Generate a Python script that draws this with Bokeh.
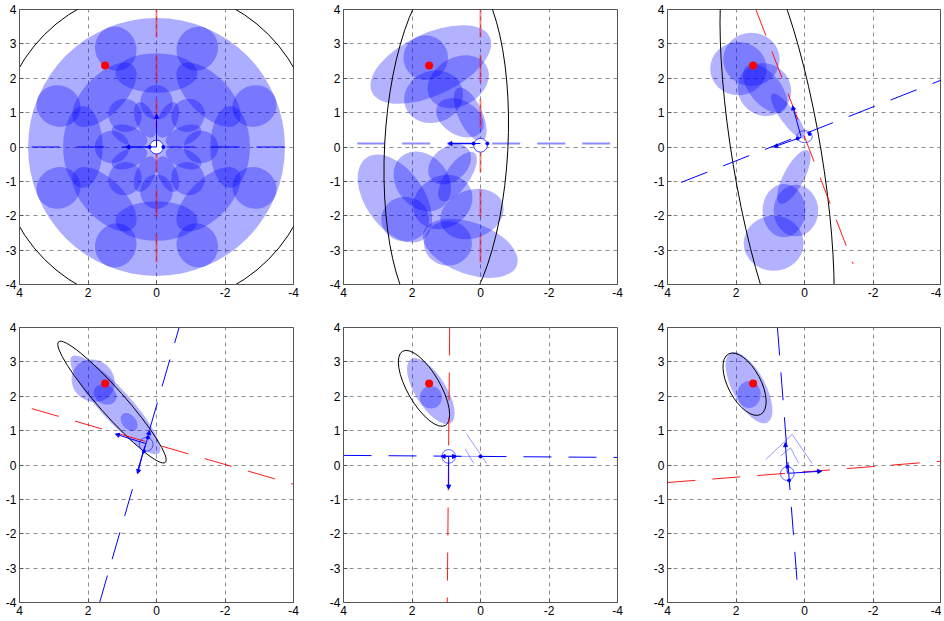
from bokeh.plotting import figure
from bokeh.layouts import column, row
from bokeh.models import Range1d, FixedTicker, Arrow, NormalHead, ColumnDataSource
from bokeh.embed import file_html
from bokeh.resources import INLINE

# ---------------- shared axis data ----------------
X_TICKS = [4, 2, 0, -2, -4]
Y_TICKS = [-4, -3, -2, -1, 0, 1, 2, 3, 4]
TRUE_X = [1.5]
TRUE_Y = [2.37]

# ---------------- panel 1 ----------------
# blue ellipses: (x, y, width, height, visual angle deg)
P1_DISC = [(0.0, 0.0, 7.5, 7.5, 0)]
P1_ELL = [
    (2.86, 1.19, 1.2, 1.3, 67.5), (1.19, 2.86, 1.2, 1.3, 22.5), (-1.19, 2.86, 1.2, 1.3, -22.5), (-2.86, 1.19, 1.2, 1.3, -67.5),
    (-2.86, -1.19, 1.2, 1.3, 67.5), (-1.19, -2.86, 1.2, 1.3, 22.5), (1.19, -2.86, 1.2, 1.3, -22.5), (2.86, -1.19, 1.2, 1.3, -67.5),
    (2.15, 0.0, 2.4, 1.15, 90), (1.52, 1.52, 2.4, 1.15, 45), (0.0, 2.15, 2.4, 1.15, 0), (-1.52, 1.52, 2.4, 1.15, -45),
    (-2.15, 0.0, 2.4, 1.15, 90), (-1.52, -1.52, 2.4, 1.15, 45), (0.0, -2.15, 2.4, 1.15, 0), (1.52, -1.52, 2.4, 1.15, -45),
    (1.3, 0.0, 0.95, 1.0, 90), (0.92, 0.92, 0.95, 1.0, 45), (0.0, 1.3, 0.95, 1.0, 0), (-0.92, 0.92, 0.95, 1.0, -45),
    (-1.3, 0.0, 0.95, 1.0, 90), (-0.92, -0.92, 0.95, 1.0, 45), (0.0, -1.3, 0.95, 1.0, 0), (0.92, -0.92, 0.95, 1.0, -45),
    (0.79, 0.33, 0.55, 1.1, 67.5), (0.33, 0.79, 0.55, 1.1, 22.5), (-0.33, 0.79, 0.55, 1.1, -22.5), (-0.79, 0.33, 0.55, 1.1, -67.5),
    (-0.79, -0.33, 0.55, 1.1, 67.5), (-0.33, -0.79, 0.55, 1.1, 22.5), (0.33, -0.79, 0.55, 1.1, -22.5), (0.79, -0.33, 0.55, 1.1, -67.5),
]
P1_BLACK = [(0.0, 0.0, 9.25, 9.25, 0)]
P1_RED_X, P1_RED_Y = [0.0, 0.0], [4.0, -3.5]
P1_BLUE_X, P1_BLUE_Y = [3.65, -4.0], [0.0, 0.0]
P1_ARROWS = [(0.0, 0.0, 0.9, 0.0), (0.0, 0.0, 0.0, 0.95)]
P1_DOTS = [(0.2, 0.0), (-0.2, 0.0)]
P1_RING = [(0.0, 0.0, 0.4, 0.4, 0)]

# ---------------- panel 2 ----------------
P2_ELL = [
    (1.45, 2.4, 3.8, 1.8, 25), (1.6, 2.6, 1.3, 1.3, 0), (0.65, 1.9, 1.9, 1.4, 30),
    (1.37, 1.46, 1.75, 1.5, 20), (0.6, 0.85, 1.5, 1.0, -30), (0.3, 0.95, 1.7, 0.7, -65),
    (2.5, -1.5, 2.9, 1.7, -55), (1.7, -1.0, 1.9, 1.5, -50), (0.9, -0.5, 1.4, 1.0, 40),
    (0.67, -0.86, 1.7, 0.7, 55), (1.1, -1.6, 1.8, 1.5, 30), (0.25, -1.95, 1.9, 1.4, 20),
    (2.2, -2.1, 1.4, 1.3, 0), (0.3, -2.95, 2.9, 1.5, -20), (0.95, -2.8, 1.4, 1.3, 0),
]
P2_BLACK = [(1.0, 0.0, 3.6, 10.5, -3)]
P2_RED_X, P2_RED_Y = [0.0, 0.0], [4.0, -3.5]
P2_BLUE_X, P2_BLUE_Y = [3.6, -4.0], [0.1, 0.1]
P2_ARROWS = [(0.0, 0.1, 0.95, 0.1)]
P2_DOTS = [(0.2, 0.1), (-0.2, 0.1)]
P2_RING = [(0.0, 0.05, 0.4, 0.4, 0)]

# ---------------- panel 3 ----------------
P3_ELL = [
    (1.93, 2.28, 1.65, 1.55, 0), (1.55, 2.55, 1.65, 1.55, 0), (1.17, 1.67, 1.6, 1.5, -40),
    (1.15, 1.7, 1.7, 0.9, -50), (0.48, 0.9, 1.6, 0.45, -54), (0.31, -0.87, 1.75, 0.6, 62),
    (0.6, -1.85, 1.25, 1.55, 0), (0.25, -1.85, 1.3, 1.5, 0), (0.9, -2.8, 1.75, 1.6, 0),
]
P3_BLACK = [(0.8, -0.3, 2.6, 13.0, 9.4)]
P3_RED_X, P3_RED_Y = [1.42, -1.42], [4.0, -3.4]
P3_BLUE_X, P3_BLUE_Y = [3.6, -4.0], [-1.03, 1.95]
P3_ARROWS = [(0.1, 0.28, 0.9, 0.0), (0.1, 0.3, 0.35, 1.2)]
P3_DOTS = [(-0.15, 0.38), (0.2, 0.25)]
P3_RING = [(0.0, 0.3, 0.45, 0.35, 0)]

# ---------------- panel 4 ----------------
P4_ELL = [
    (1.2, 1.75, 3.8, 0.9, -48), (1.85, 2.45, 1.3, 1.2, -40), (1.5, 2.05, 0.7, 0.55, -30),
    (0.8, 1.25, 0.6, 0.4, -50),
]
P4_BLACK = [(1.3, 1.83, 4.7, 0.75, -48.5)]
P4_RED_X, P4_RED_Y = [3.64, -4.0], [1.64, -0.56]
P4_BLUE_X, P4_BLUE_Y = [1.66, -0.66], [-4.0, 4.0]
P4_ARROWS = [(0.3, 0.62, 1.2, 0.9), (0.37, 0.45, 0.55, -0.25), (0.4, 0.3, 0.2, 1.0)]
P4_DOTS = [(0.25, 0.8), (0.37, 0.4)]
P4_RING = [(0.3, 0.6, 0.4, 0.4, 0)]

# ---------------- panel 5 ----------------
P5_ELL = [(1.45, 2.15, 2.2, 0.9, -58), (1.45, 1.97, 0.65, 0.65, 0)]
P5_BLACK = [(1.65, 2.23, 2.5, 0.95, -60)]
P5_RED_X, P5_RED_Y = [0.9, 0.97], [4.0, -4.0]
P5_BLUE_X, P5_BLUE_Y = [4.0, -4.0], [0.28, 0.22]
P5_ARROWS = [(0.93, 0.25, 0.93, -0.7), (0.93, 0.25, 1.15, 0.25), (0.93, 0.25, 0.7, 0.25)]
P5_DOTS = [(0.0, 0.25)]
P5_RING = [(0.93, 0.25, 0.4, 0.4, 0)]
P5_LIGHT = [([0.4, -0.18], [0.89, 0.05]), ([0.45, 0.2], [0.47, 0.05]), ([0.74, -0.38], [0.25, 0.25])]

# ---------------- panel 6 ----------------
P6_ELL = [(1.62, 2.25, 2.3, 0.95, -62), (1.62, 2.05, 0.68, 0.78, 0)]
P6_BLACK = [(1.75, 2.35, 2.0, 0.95, -62)]
P6_RED_X, P6_RED_Y = [4.0, -4.0], [-0.51, 0.11]
P6_BLUE_X, P6_BLUE_Y = [0.79, 0.21], [4.0, -3.47]
P6_ARROWS = [(0.45, -0.24, -0.5, -0.18), (0.5, -0.25, 0.56, 0.65)]
P6_DOTS = [(0.5, -0.05), (0.45, -0.45)]
P6_RING = [(0.5, -0.25, 0.4, 0.4, 0)]
P6_LIGHT = [([1.13, 0.36, -0.22], [0.16, 0.89, 0.05]), ([0.7, 0.41, 0.17], [0.26, 0.5, 0.05])]

BLUE = "#0000ff"
RED = "#ff0000"
FONT = "Liberation Sans"


def make_fig(width, height, right, bottom):
    p = figure(width=width, height=height, x_range=Range1d(4, -4), y_range=Range1d(-4, 4),
               output_backend="svg", toolbar_location=None, tools="",
               min_border_left=19, min_border_right=right, min_border_top=9, min_border_bottom=bottom,
               background_fill_color="white", border_fill_color="white")
    p.outline_line_color = "#555555"
    p.outline_line_width = 1
    p.xaxis.ticker = FixedTicker(ticks=X_TICKS)
    p.yaxis.ticker = FixedTicker(ticks=Y_TICKS)
    p.xaxis.major_label_overrides = {t: str(t) for t in X_TICKS}
    p.yaxis.major_label_overrides = {t: str(t) for t in Y_TICKS}
    for ax in (p.xaxis, p.yaxis):
        ax.axis_line_color = "#555555"
        ax.major_tick_in = 4
        ax.major_tick_out = 0
        ax.major_tick_line_color = "#555555"
        ax.minor_tick_line_color = None
        ax.major_label_standoff = 3
        ax.major_label_text_font = FONT
        ax.major_label_text_font_size = "12px"
        ax.major_label_text_color = "black"
    p.grid.grid_line_color = "#8c8c8c"
    p.grid.grid_line_dash = "4 4"
    p.grid.grid_line_width = 1
    return p


def ell_src(rows):
    return ColumnDataSource(dict(x=[r[0] for r in rows], y=[r[1] for r in rows],
                                 w=[r[2] for r in rows], h=[r[3] for r in rows],
                                 a=[r[4] for r in rows]))


def draw(p, ells, black, red_xy, blue_xy, arrows, dots, ring, light=None,
         red_alpha=0.9, red_width=1, blue_alpha=1.0, blue_width=1, ring_fill=None, extra_fill=None):
    if extra_fill:
        p.ellipse("x", "y", width="w", height="h", angle="a", angle_units="deg",
                  source=ell_src(extra_fill), fill_color=BLUE, fill_alpha=0.32, line_color=None)
    p.ellipse("x", "y", width="w", height="h", angle="a", angle_units="deg",
              source=ell_src(ells), fill_color=BLUE, fill_alpha=0.3, line_color=None)
    p.ellipse("x", "y", width="w", height="h", angle="a", angle_units="deg",
              source=ell_src(black), fill_color=None, line_color="black", line_width=1)
    p.line(red_xy[0], red_xy[1], line_color=RED, line_alpha=red_alpha, line_width=red_width,
           line_dash="28 17")
    p.line(blue_xy[0], blue_xy[1], line_color=BLUE, line_alpha=blue_alpha, line_width=blue_width,
           line_dash="28 17")
    if light:
        for lx, ly in light:
            p.line(lx, ly, line_color=BLUE, line_alpha=0.4, line_width=1)
    if ring_fill:
        p.ellipse("x", "y", width="w", height="h", angle="a", angle_units="deg",
                  source=ell_src(ring), fill_color=ring_fill, line_color=BLUE, line_alpha=0.7,
                  line_width=1)
    else:
        p.ellipse("x", "y", width="w", height="h", angle="a", angle_units="deg",
                  source=ell_src(ring), fill_color=None, line_color=BLUE, line_alpha=0.6,
                  line_width=1)
    src = ColumnDataSource(dict(x0=[a[0] for a in arrows], y0=[a[1] for a in arrows],
                                x1=[a[2] for a in arrows], y1=[a[3] for a in arrows]))
    p.add_layout(Arrow(end=NormalHead(size=4, fill_color=BLUE, line_color=BLUE),
                       x_start="x0", y_start="y0", x_end="x1", y_end="y1", source=src,
                       line_color=BLUE, line_width=1))
    p.scatter([d[0] for d in dots], [d[1] for d in dots], size=3, color=BLUE)
    p.scatter(TRUE_X, TRUE_Y, size=8, color=RED, line_color=None)


W12, W3 = 324, 293
H1, H2 = 318, 300

f1 = make_fig(W12, H1, 31, 34)
draw(f1, P1_ELL, P1_BLACK, (P1_RED_X, P1_RED_Y), (P1_BLUE_X, P1_BLUE_Y), P1_ARROWS, P1_DOTS,
     P1_RING, red_alpha=0.45, red_width=2, ring_fill="white", extra_fill=P1_DISC)

f2 = make_fig(W12, H1, 31, 34)
draw(f2, P2_ELL, P2_BLACK, (P2_RED_X, P2_RED_Y), (P2_BLUE_X, P2_BLUE_Y), P2_ARROWS, P2_DOTS,
     P2_RING, red_alpha=0.45, red_width=2, blue_alpha=0.45, blue_width=2, ring_fill="white")

f3 = make_fig(W3, H1, 0, 34)
draw(f3, P3_ELL, P3_BLACK, (P3_RED_X, P3_RED_Y), (P3_BLUE_X, P3_BLUE_Y), P3_ARROWS, P3_DOTS, P3_RING)

f4 = make_fig(W12, H2, 31, 16)
draw(f4, P4_ELL, P4_BLACK, (P4_RED_X, P4_RED_Y), (P4_BLUE_X, P4_BLUE_Y), P4_ARROWS, P4_DOTS, P4_RING)

f5 = make_fig(W12, H2, 31, 16)
draw(f5, P5_ELL, P5_BLACK, (P5_RED_X, P5_RED_Y), (P5_BLUE_X, P5_BLUE_Y), P5_ARROWS, P5_DOTS,
     P5_RING, light=P5_LIGHT)

f6 = make_fig(W3, H2, 0, 16)
draw(f6, P6_ELL, P6_BLACK, (P6_RED_X, P6_RED_Y), (P6_BLUE_X, P6_BLUE_Y), P6_ARROWS, P6_DOTS,
     P6_RING, light=P6_LIGHT)

layout = column(row(f1, f2, f3, spacing=0), row(f4, f5, f6, spacing=0), spacing=0)
open("out.html", "w").write(file_html(layout, INLINE))
